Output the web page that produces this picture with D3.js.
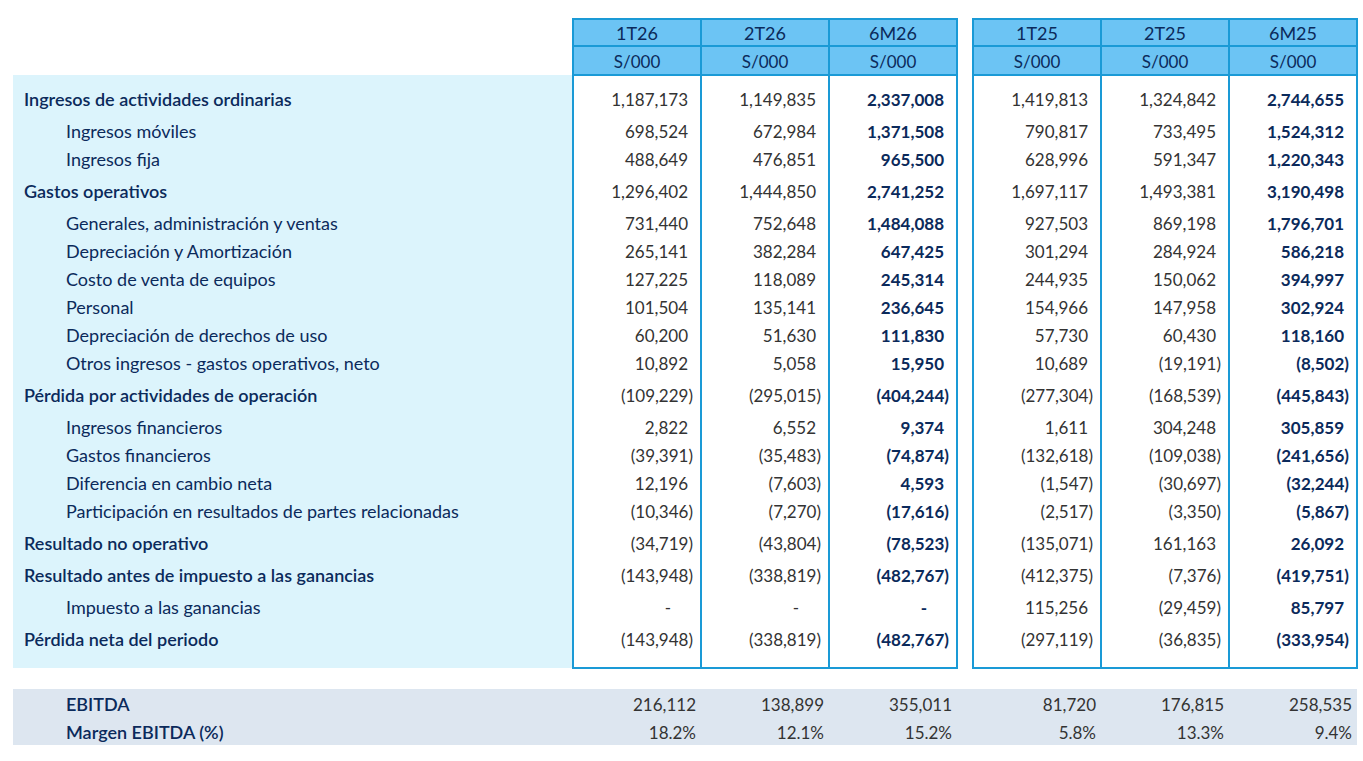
<!DOCTYPE html>
<html><head><meta charset="utf-8">
<script src="https://cdn.jsdelivr.net/npm/d3@7"></script>
<style>body{margin:0;background:#fff}svg{display:block;font-family:Lato,"Open Sans",sans-serif}</style>
</head><body><svg id="chart" width="1363" height="761"></svg>
<script>
var periods = ['1T26', '2T26', '6M26', '1T25', '2T25', '6M25'];
var units = ['S/000', 'S/000', 'S/000', 'S/000', 'S/000', 'S/000'];
var labels = ['Ingresos de actividades ordinarias', 'Ingresos móviles', 'Ingresos fija', 'Gastos operativos',
  'Generales, administración y ventas', 'Depreciación y Amortización', 'Costo de venta de equipos', 'Personal',
  'Depreciación de derechos de uso', 'Otros ingresos - gastos operativos, neto', 'Pérdida por actividades de operación',
  'Ingresos financieros', 'Gastos financieros', 'Diferencia en cambio neta', 'Participación en resultados de partes relacionadas',
  'Resultado no operativo', 'Resultado antes de impuesto a las ganancias', 'Impuesto a las ganancias', 'Pérdida neta del periodo'];
var main = [1, 0, 0, 1, 0, 0, 0, 0, 0, 0, 1, 0, 0, 0, 0, 1, 1, 0, 1];
var v1T26 = [1187173, 698524, 488649, 1296402, 731440, 265141, 127225, 101504, 60200, 10892, -109229, 2822, -39391, 12196, -10346, -34719, -143948, null, -143948];
var v2T26 = [1149835, 672984, 476851, 1444850, 752648, 382284, 118089, 135141, 51630, 5058, -295015, 6552, -35483, -7603, -7270, -43804, -338819, null, -338819];
var v6M26 = [2337008, 1371508, 965500, 2741252, 1484088, 647425, 245314, 236645, 111830, 15950, -404244, 9374, -74874, 4593, -17616, -78523, -482767, null, -482767];
var v1T25 = [1419813, 790817, 628996, 1697117, 927503, 301294, 244935, 154966, 57730, 10689, -277304, 1611, -132618, -1547, -2517, -135071, -412375, 115256, -297119];
var v2T25 = [1324842, 733495, 591347, 1493381, 869198, 284924, 150062, 147958, 60430, -19191, -168539, 304248, -109038, -30697, -3350, 161163, -7376, -29459, -36835];
var v6M25 = [2744655, 1524312, 1220343, 3190498, 1796701, 586218, 394997, 302924, 118160, -8502, -445843, 305859, -241656, -32244, -5867, 26092, -419751, 85797, -333954];
var ebitdaLabels = ['EBITDA', 'Margen EBITDA (%)'];
var ebitda = [216112, 138899, 355011, 81720, 176815, 258535];
var margen = [18.2, 12.1, 15.2, 5.8, 13.3, 9.4];

var cols = [v1T26, v2T26, v6M26, v1T25, v2T25, v6M25];
var navy = '#0b2a5b', border = '#1a9ad6', headFill = '#6cc4f4';
var svg = d3.select('#chart');

// x positions: two groups of three columns
var xA = d3.scaleBand().domain([0, 1, 2]).range([573, 957]);
var xB = d3.scaleBand().domain([3, 4, 5]).range([973, 1357]);
var colX = function(i) { return i < 3 ? xA(i) : xB(i); };
var cw = xA.bandwidth();

// y positions of rows (main rows get a bit more space)
var ys = [], y = 106;
labels.forEach(function(l, i) {
  if (i > 0) y += 28 + (main[i] || main[i - 1] ? 4 : 0);
  ys.push(y);
});
var yScale = d3.scaleOrdinal().domain(d3.range(labels.length)).range(ys);

var fmt = d3.format(',');
var fmtV = function(v) { return v == null ? '-' : v < 0 ? '(' + fmt(-v) + ')' : fmt(v); };

// light panel behind labels
svg.append('rect').attr('x', 13).attr('y', 75).attr('width', 560).attr('height', 593).attr('fill', '#dcf4fc');

// column boxes
periods.forEach(function(p, i) {
  var x = colX(i);
  svg.append('rect').attr('x', x).attr('y', 19).attr('width', cw).attr('height', 56)
    .attr('fill', headFill).attr('stroke', border).attr('stroke-width', 2);
  svg.append('line').attr('x1', x).attr('x2', x + cw).attr('y1', 46).attr('y2', 46).attr('stroke', border).attr('stroke-width', 2);
  svg.append('rect').attr('x', x).attr('y', 75).attr('width', cw).attr('height', 593)
    .attr('fill', '#fff').attr('stroke', border).attr('stroke-width', 2);
  svg.append('text').attr('x', x + cw / 2).attr('y', 40).attr('text-anchor', 'middle')
    .attr('font-size', 18).attr('fill', navy).text(p);
  svg.append('text').attr('x', x + cw / 2).attr('y', 68).attr('text-anchor', 'middle')
    .attr('font-size', 17).attr('fill', navy).text(units[i]);
});

// row labels
svg.selectAll('text.lab').data(labels).enter().append('text').attr('class', 'lab')
  .attr('x', function(d, i) { return main[i] ? 24 : 66; })
  .attr('y', function(d, i) { return yScale(i); })
  .attr('font-size', 18).attr('font-weight', function(d, i) { return main[i] ? 600 : 400; })
  .attr('fill', navy).text(function(d) { return d; });

// values
cols.forEach(function(col, c) {
  var bold = c === 2 || c === 5;
  svg.selectAll('text.v' + c).data(col).enter().append('text').attr('class', 'v' + c)
    .attr('x', function(d) { return colX(c) + cw - (d == null ? 30 : 8) - (d != null && d >= 0 ? 5 : 0); })
    .attr('y', function(d, i) { return yScale(i); })
    .attr('text-anchor', 'end').attr('font-size', 17)
    .attr('font-weight', bold ? 700 : 400)
    .attr('fill', bold ? navy : '#333').text(fmtV);
});

// EBITDA band
svg.append('rect').attr('x', 13).attr('y', 689).attr('width', 1344).attr('height', 56).attr('fill', '#dde6f0');
ebitdaLabels.forEach(function(l, r) {
  svg.append('text').attr('x', 66).attr('y', 711 + r * 28).attr('font-size', 18).attr('font-weight', 600)
    .attr('fill', navy).text(l);
});
[ebitda, margen].forEach(function(arr, r) {
  svg.selectAll('text.e' + r).data(arr).enter().append('text').attr('class', 'e' + r)
    .attr('x', function(d, i) { return colX(i) + cw - 5; })
    .attr('y', 711 + r * 28).attr('text-anchor', 'end').attr('font-size', 17).attr('fill', '#333')
    .text(function(d) { return r ? d.toFixed(1) + '%' : fmt(d); });
});
</script></body></html>
